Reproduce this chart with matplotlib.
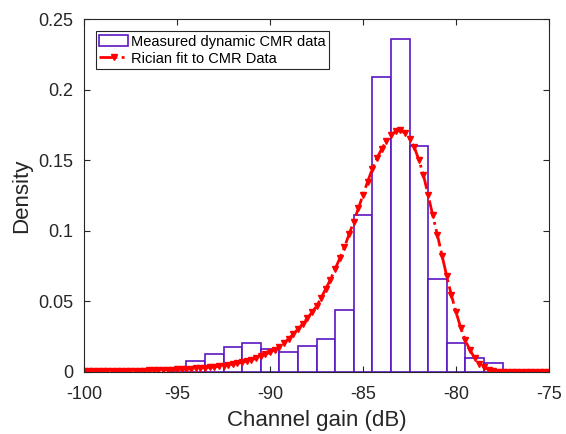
import matplotlib.pyplot as plt
import numpy as np

plt.rcParams['font.family'] = ['Liberation Sans', 'DejaVu Sans']
plt.rcParams['axes.unicode_minus'] = False

# histogram (bin centres, 1 dB wide)
bin_centers = [-95, -94, -93, -92, -91, -90, -89, -88, -87, -86,
               -85, -84, -83, -82, -81, -80, -79, -78]
bin_density = [0.0030, 0.0078, 0.0130, 0.0175, 0.0203, 0.0160, 0.0144, 0.0187, 0.0236, 0.0440,
               0.1115, 0.2089, 0.2362, 0.1600, 0.0662, 0.0203, 0.0099, 0.0064]
bin_width = 1.0

# Rician fit curve, sampled every 0.25 dB from -100 to -75
fit_x = np.arange(-100, -74.99, 0.25)
fit_y = [0.0004, 0.0004, 0.0004, 0.0005, 0.0005, 0.0005, 0.0006, 0.0006, 0.0006, 0.0007,
         0.0007, 0.0008, 0.0009, 0.0010, 0.0011, 0.0012, 0.0013, 0.0014, 0.0015, 0.0016,
         0.0018, 0.0019, 0.0021, 0.0023, 0.0025, 0.0027, 0.0030, 0.0033, 0.0036, 0.0040,
         0.0044, 0.0048, 0.0054, 0.0061, 0.0068, 0.0076, 0.0086, 0.0097, 0.0110, 0.0124,
         0.0140, 0.0158, 0.0178, 0.0205, 0.0235, 0.0268, 0.0303, 0.0340, 0.0380, 0.0422,
         0.0466, 0.0525, 0.0590, 0.0655, 0.0730, 0.0805, 0.0885, 0.0975, 0.1065, 0.1160,
         0.1255, 0.1350, 0.1440, 0.1515, 0.1580, 0.1635, 0.1678, 0.1705, 0.1712, 0.1695,
         0.1655, 0.1595, 0.1505, 0.1395, 0.1255, 0.1110, 0.0970, 0.0825, 0.0680, 0.0545,
         0.0425, 0.0315, 0.0225, 0.0155, 0.0100, 0.0060, 0.0033, 0.0017, 0.0008, 0.0003,
         0.0001, 0.0000, 0.0000, 0.0000, 0.0000, 0.0000, 0.0000, 0.0000, 0.0000, 0.0000,
         0.0000]

xticks = [-100, -95, -90, -85, -80, -75]
yticks = [0, 0.05, 0.1, 0.15, 0.2, 0.25]
ytick_labels = ['0', '0.05', '0.1', '0.15', '0.2', '0.25']

fig = plt.figure(figsize=(5.66, 4.34), dpi=100)
ax = fig.add_axes([0.1484, 0.1429, 0.8216, 0.8126])

bars = ax.bar(bin_centers, bin_density, width=bin_width, facecolor='white',
              edgecolor='#5b16c2', linewidth=1.2, label='Measured dynamic CMR data')
line, = ax.plot(fit_x, fit_y, color='red', linestyle='-.', linewidth=2.0,
                marker='v', markersize=5, label='Rician fit to CMR Data')

ax.set_xlim(-100, -75)
ax.set_ylim(0, 0.25)
ax.set_xticks(xticks)
ax.set_yticks(yticks)
ax.set_yticklabels(ytick_labels)

ax.tick_params(direction='in', top=True, right=True, labelsize=13,
               colors='#262626', length=4, width=0.8)
ax.tick_params(axis='x', pad=10)
ax.tick_params(axis='y', pad=8)
for s in ax.spines.values():
    s.set_color('#262626')
    s.set_linewidth(0.8)

ax.set_xlabel('Channel gain (dB)', fontsize=16, color='#262626', labelpad=5)
ax.set_ylabel('Density', fontsize=16, color='#262626', labelpad=4)

leg = ax.legend([bars, line], ['Measured dynamic CMR data', 'Rician fit to CMR Data'],
                loc='upper left', fontsize=10.5, fancybox=False, framealpha=1,
                edgecolor='#262626', borderpad=0.25, labelspacing=0.2,
                handlelength=2.0, handletextpad=0.15, borderaxespad=0.8)
leg.get_frame().set_linewidth(0.8)

fig.savefig('out.png', dpi=100)
